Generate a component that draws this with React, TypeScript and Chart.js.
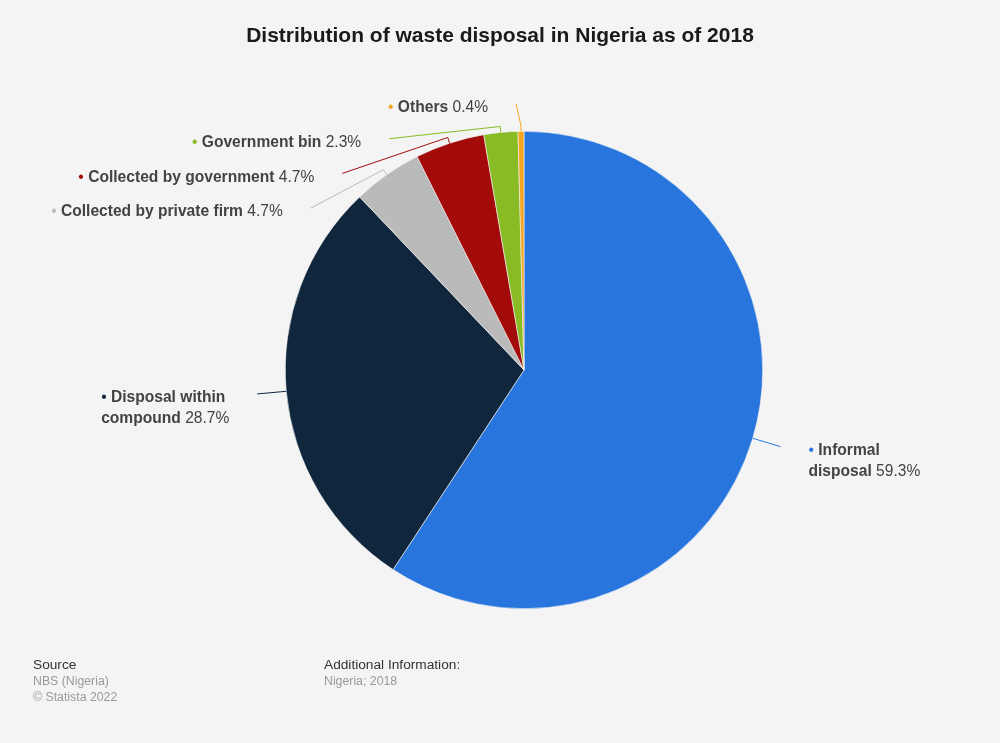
import React, { useRef, useEffect } from "react";
import { Chart, registerables } from "chart.js";

Chart.register(...registerables);

const categories = [
    "Informal disposal",
    "Disposal within compound",
    "Collected by private firm",
    "Collected by government",
    "Government bin",
    "Others",
];
const shares = [59.3, 28.7, 4.7, 4.7, 2.3, 0.4];
const sliceColors = ["#2876dd", "#10263c", "#bababa", "#a30b0b", "#88bb24", "#f5a623"];

const FONT = "'Liberation Sans', Arial, sans-serif";
const TEXT_COLOR = "#434343";

// draws highcharts-like labels with connectors
const pieLabels = {
    id: "pieLabels",
    afterDraw(chart: any) {
        const ctx = chart.ctx as CanvasRenderingContext2D;
        const meta = chart.getDatasetMeta(0);
        const area = chart.chartArea;
        const spacing = 34.7;
        const dist = 29;

        const items = meta.data.map((arc: any, i: number) => {
            const p = arc.getProps(["x", "y", "startAngle", "endAngle", "outerRadius"], true);
            const mid = (p.startAngle + p.endAngle) / 2;
            const R = p.outerRadius + dist;
            return {
                i,
                cx: p.x,
                cy: p.y,
                r: p.outerRadius,
                R,
                mid,
                left: Math.cos(mid) < 0,
                ny: p.y + R * Math.sin(mid),
                y: 0,
            };
        });

        const topBound = area.top - 27;
        [true, false].forEach((side) => {
            const group = items.filter((it: any) => it.left === side).sort((a: any, b: any) => a.ny - b.ny);
            let prev = -Infinity;
            group.forEach((it: any) => {
                it.y = Math.max(it.ny, prev + spacing, topBound);
                prev = it.y;
            });
        });

        ctx.save();
        items.forEach((it: any) => {
            const sign = it.left ? -1 : 1;
            const yRef = Math.abs(it.y - it.ny) < 5 ? it.ny : it.y;
            const dy = yRef - it.cy;
            const lx = it.cx + sign * Math.max(8, Math.sqrt(Math.max(0, it.R * it.R - dy * dy)));
            const ly = it.y;
            const ex = it.cx + it.r * Math.cos(it.mid);
            const ey = it.cy + it.r * Math.sin(it.mid);
            const bx = it.cx + (it.r + 6) * Math.cos(it.mid);
            const by = it.cy + (it.r + 6) * Math.sin(it.mid);

            ctx.strokeStyle = sliceColors[it.i];
            ctx.lineWidth = 1;
            ctx.beginPath();
            ctx.moveTo(lx, ly);
            ctx.lineTo(bx, by);
            ctx.lineTo(ex, ey);
            ctx.stroke();

            // build words
            const bold = `bold 15.6px ${FONT}`;
            const normal = `15.6px ${FONT}`;
            const words: { t: string; f: string; c: string }[] = [{ t: "•", f: normal, c: sliceColors[it.i] }];
            categories[it.i].split(" ").forEach((w) => words.push({ t: w, f: bold, c: TEXT_COLOR }));
            words.push({ t: shares[it.i].toFixed(1) + "%", f: normal, c: TEXT_COLOR });

            const maxW = Math.abs(Math.sin(it.mid)) < 0.5 ? 134 : 1000;
            ctx.font = normal;
            const space = ctx.measureText(" ").width;
            const lines: { t: string; f: string; c: string; w: number }[][] = [[]];
            let lineW = 0;
            words.forEach((w) => {
                ctx.font = w.f;
                const ww = ctx.measureText(w.t).width;
                const cur = lines[lines.length - 1];
                if (cur.length && lineW + space + ww > maxW) {
                    lines.push([{ ...w, w: ww }]);
                    lineW = ww;
                } else {
                    lineW += (cur.length ? space : 0) + ww;
                    cur.push({ ...w, w: ww });
                }
            });
            const widths = lines.map((ln) => ln.reduce((s, w, k) => s + w.w + (k ? space : 0), 0));
            const blockW = Math.max(...widths);
            const left = it.left ? lx - 28 - blockW : lx + 28;

            ctx.textBaseline = "middle";
            ctx.textAlign = "left";
            lines.forEach((ln, li) => {
                let x = left;
                ln.forEach((w, k) => {
                    if (k) x += space;
                    ctx.font = w.f;
                    ctx.fillStyle = w.c;
                    ctx.fillText(w.t, x, ly + 4 + li * 21);
                    x += w.w;
                });
            });
        });
        ctx.restore();
    },
};

const App = () => {
    const chartRef = useRef<HTMLCanvasElement>(null);

    useEffect(() => {
        document.body.style.margin = "0";
        const ctx = chartRef.current?.getContext("2d");
        if (!ctx) return;

        const myChart = new Chart(ctx, {
            type: "pie",
            data: {
                labels: categories,
                datasets: [
                    {
                        data: shares,
                        backgroundColor: sliceColors,
                        borderColor: "#f4f4f4",
                        borderWidth: 0.6,
                    },
                ],
            },
            options: {
                responsive: false,
                animation: false,
                layout: {
                    padding: { left: 285, right: 237, top: 131, bottom: 134 },
                },
                plugins: {
                    legend: { display: false },
                    tooltip: { enabled: false },
                },
            },
            plugins: [pieLabels],
        });

        return () => {
            myChart.destroy();
        };
    }, []);

    const foot: React.CSSProperties = {
        position: "absolute",
        fontFamily: FONT,
        lineHeight: "16px",
    };
    const head: React.CSSProperties = { color: "#333", fontSize: 13.7 };
    const sub: React.CSSProperties = { color: "#999", fontSize: 12.3 };

    return (
        <div style={{ position: "relative", width: 1000, height: 743, background: "#f4f4f4", overflow: "hidden" }}>
            <canvas ref={chartRef} width={1000} height={743} style={{ position: "absolute", left: 0, top: 0 }}></canvas>
            <div
                style={{
                    position: "absolute",
                    left: 0,
                    width: 1000,
                    top: 21,
                    textAlign: "center",
                    fontFamily: FONT,
                    fontWeight: "bold",
                    fontSize: 21,
                    lineHeight: "28px",
                    color: "#1a1a1a",
                }}
            >
                Distribution of waste disposal in Nigeria as of 2018
            </div>
            <div style={{ ...foot, left: 33, top: 657 }}>
                <div style={head}>Source</div>
                <div style={sub}>NBS (Nigeria)</div>
                <div style={sub}>© Statista 2022</div>
            </div>
            <div style={{ ...foot, left: 324, top: 657 }}>
                <div style={head}>Additional Information:</div>
                <div style={sub}>Nigeria; 2018</div>
            </div>
        </div>
    );
};

export default App;
